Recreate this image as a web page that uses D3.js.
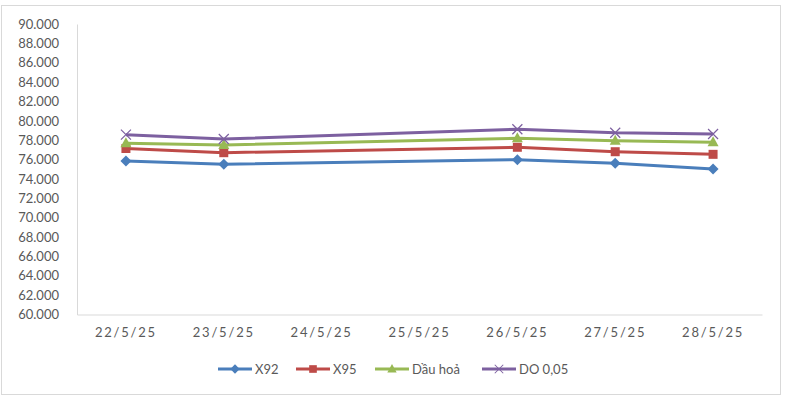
<!DOCTYPE html>
<html>
<head>
<meta charset="utf-8">
<script src="https://cdn.jsdelivr.net/npm/d3@7"></script>
<style>
  body { margin: 0; background: #fff; }
  text { font-family: Lato, "Liberation Sans", sans-serif; fill: #595959; }
</style>
</head>
<body>
<svg id="chart" width="785" height="396"></svg>
<script>
// categories on the x axis (24/5 and 25/5 have no data)
var days = ['22/5/25', '23/5/25', '24/5/25', '25/5/25', '26/5/25', '27/5/25', '28/5/25']
var dataDays = ['22/5/25', '23/5/25', '26/5/25', '27/5/25', '28/5/25']

var x92 = [75850, 75510, 75990, 75610, 75030]
var x95 = [77140, 76710, 77270, 76810, 76540]
var dauHoa = [77680, 77500, 78200, 77950, 77780]
var do005 = [78570, 78120, 79130, 78770, 78640]

var yTicks = [60000, 62000, 64000, 66000, 68000, 70000, 72000, 74000, 76000, 78000, 80000, 82000, 84000, 86000, 88000, 90000]

var series = [
  {name: 'X92', values: x92, color: '#4a7ebb', marker: 'diamond'},
  {name: 'X95', values: x95, color: '#be4b48', marker: 'square'},
  {name: 'Dầu hoả', values: dauHoa, color: '#98b954', marker: 'triangle'},
  {name: 'DO 0,05', values: do005, color: '#7d60a0', marker: 'cross'}
]

var svg = d3.select('#chart')

// outer border
svg.append('rect')
  .attr('x', 1.5).attr('y', 5.5)
  .attr('width', 779).attr('height', 389)
  .attr('fill', 'none').attr('stroke', '#d9d9d9')

var plotLeft = 77, plotRight = 762, plotTop = 24, plotBottom = 314.5

var x = d3.scaleBand().domain(days).range([plotLeft, plotRight])
var y = d3.scaleLinear().domain([60000, 90000]).range([plotBottom, plotTop])

// y axis
var yAxis = svg.append('g')
  .attr('transform', 'translate(' + plotLeft + ',0)')
  .call(d3.axisLeft(y).tickValues(yTicks).tickSize(0).tickPadding(18)
    .tickFormat(function (d) { return (d / 1000).toFixed(3) }))
yAxis.select('.domain').attr('stroke', '#d9d9d9')
yAxis.selectAll('text').style('font-size', '13px').attr('fill', '#595959')

// x axis
var xAxis = svg.append('g')
  .attr('transform', 'translate(0,' + plotBottom + ')')
  .call(d3.axisBottom(x).tickSize(0).tickPadding(13))
xAxis.select('.domain').attr('stroke', '#d9d9d9')
xAxis.selectAll('text').style('font-size', '13px').style('letter-spacing', '1.8px').attr('fill', '#595959')

var cx = function (d) { return x(d) + x.bandwidth() / 2 }

var line = d3.line()
  .x(function (d) { return cx(d.day) })
  .y(function (d) { return y(d.v) })

function markerPath(type) {
  if (type === 'diamond') return 'M0,-5.5L5.5,0L0,5.5L-5.5,0Z'
  if (type === 'square') return 'M-4.5,-4.5H4.5V4.5H-4.5Z'
  if (type === 'triangle') return 'M0,-6L5.5,4L-5.5,4Z'
  return 'M-5,-5L5,5M5,-5L-5,5'
}

function drawMarker(g, type, color) {
  var p = g.append('path').attr('d', markerPath(type))
  if (type === 'cross') p.attr('fill', 'none').attr('stroke', color).attr('stroke-width', 1.2)
  else p.attr('fill', color)
}

series.forEach(function (s) {
  var pts = dataDays.map(function (d, i) { return {day: d, v: s.values[i]} })
  svg.append('path').datum(pts)
    .attr('d', line)
    .attr('fill', 'none')
    .attr('stroke', s.color)
    .attr('stroke-width', 3)
    .attr('stroke-linejoin', 'round')
  pts.forEach(function (p) {
    var g = svg.append('g').attr('transform', 'translate(' + cx(p.day) + ',' + y(p.v) + ')')
    drawMarker(g, s.marker, s.color)
  })
})

// legend
var legendX = [218, 296, 375, 482]
var legendY = 369
series.forEach(function (s, i) {
  var g = svg.append('g').attr('transform', 'translate(' + legendX[i] + ',' + legendY + ')')
  g.append('line').attr('x1', 0).attr('x2', 34).attr('y1', 0).attr('y2', 0)
    .attr('stroke', s.color).attr('stroke-width', 3)
  var m = g.append('g').attr('transform', 'translate(17,0) scale(0.85)')
  drawMarker(m, s.marker, s.color)
  g.append('text').attr('x', 37).attr('y', 0).attr('dy', '0.35em')
    .style('font-size', '13px').text(s.name)
})
</script>
</body>
</html>
